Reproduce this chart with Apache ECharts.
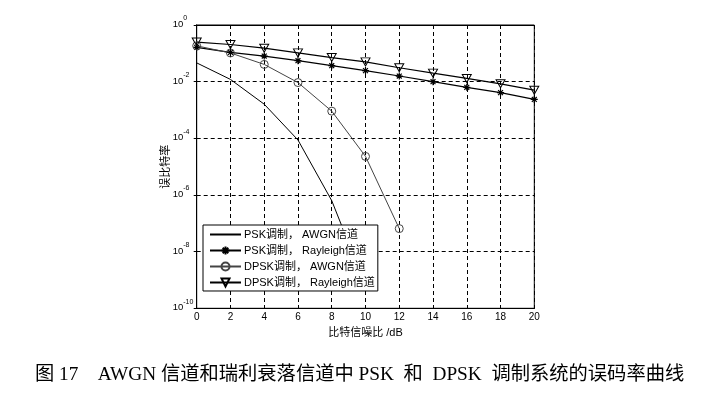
<!DOCTYPE html>
<html>
<head>
<meta charset="utf-8">
<script src="https://cdn.jsdelivr.net/npm/echarts@6/dist/echarts.min.js"></script>
<style>
html,body{margin:0;padding:0;background:#fff;}
#c{width:701px;height:394px;}
</style>
</head>
<body>
<div id="c"></div>
<script>
// ---- data ----
var snrAll = [0, 2, 4, 6, 8, 10, 12, 14, 16, 18, 20];
var pskAwgnSnr = [0, 2, 4, 6, 8, 10];
var pskAwgnBer = [0.046, 0.012, 0.0016, 8.7e-5, 6.3e-7, 6.3e-10];
var pskRayBer = [0.162, 0.108, 0.080, 0.055, 0.0367, 0.0245, 0.0158, 0.0100, 0.0063, 0.0041, 0.00236];
var dpskAwgnSnr = [0, 2, 4, 6, 8, 10, 12];
var dpskAwgnBer = [0.184, 0.103, 0.0406, 0.0093, 9.1e-4, 2.3e-5, 6.5e-8];
var dpskRayBer = [0.25, 0.205, 0.152, 0.104, 0.071, 0.050, 0.031, 0.020, 0.0130, 0.0084, 0.0050];
var seriesNames = ['PSK调制， AWGN信道', 'PSK调制， Rayleigh信道', 'DPSK调制， AWGN信道', 'DPSK调制， Rayleigh信道'];
var xTicks = [0, 2, 4, 6, 8, 10, 12, 14, 16, 18, 20];
var xName = '比特信噪比 /dB';
var yName = '误比特率';
var caption = '图 17　AWGN 信道和瑞利衰落信道中 PSK  和  DPSK  调制系统的误码率曲线';

function pairs(xs, ys) { return xs.map(function (x, i) { return [x, ys[i]]; }); }

var asterisk = 'path://M5,0L5,10M0,5L10,5M1.5,1.5L8.5,8.5M8.5,1.5L1.5,8.5';
var triDown = 'path://M0,0L10,0L5,9Z';
var font = "'Liberation Sans', Arial, 'Noto Sans CJK SC', sans-serif";
var gridLine = {show: true, lineStyle: {color: '#000', type: [4, 3], width: 1}};
var inTick = {show: true, inside: true, length: 3, lineStyle: {color: '#000'}};
var blackLine = {show: true, lineStyle: {color: '#000', width: 1}};

var chart = echarts.init(document.getElementById('c'), null, {renderer: 'canvas'});
chart.setOption({
  animation: false,
  backgroundColor: '#fff',
  title: {
    text: caption,
    left: 35, top: 365, padding: 0,
    textStyle: {fontFamily: "'Liberation Serif', 'Times New Roman', 'Noto Sans CJK SC', serif", fontSize: 19.3, fontWeight: 'normal', color: '#000'}
  },
  grid: {left: 196.7, right: 166.7, top: 25, bottom: 85.7, show: true, borderColor: '#000', borderWidth: 1, backgroundColor: '#fff'},
  legend: {
    orient: 'vertical', left: 203, top: 225,
    backgroundColor: '#fff', borderColor: '#000', borderWidth: 1,
    padding: [4, 3, 3, 6], itemGap: 5, itemWidth: 31, itemHeight: 10,
    textStyle: {fontFamily: font, fontSize: 11, color: '#000', padding: [0, 0, 0, -2]},
    data: [
      {name: seriesNames[0], itemStyle: {opacity: 0}},
      seriesNames[1], seriesNames[2], seriesNames[3]
    ]
  },
  xAxis: [{
    type: 'value', min: 0, max: 20, interval: 2,
    name: xName, nameLocation: 'middle', nameGap: 18,
    nameTextStyle: {fontFamily: font, fontSize: 11, color: '#000'},
    axisLine: blackLine, axisTick: inTick,
    axisLabel: {fontFamily: font, fontSize: 10, color: '#000', margin: 4, customValues: xTicks},
    splitLine: gridLine
  }, {
    type: 'value', min: 0, max: 20, interval: 2, position: 'top',
    axisLine: blackLine, axisTick: inTick, axisLabel: {show: false}, splitLine: {show: false}
  }],
  yAxis: [{
    type: 'log', logBase: 10, min: 1e-10, max: 1, interval: 2,
    name: yName, nameLocation: 'middle', nameGap: 25.5, nameRotate: 90, nameMoveOverlap: false,
    nameTextStyle: {fontFamily: font, fontSize: 11, color: '#000'},
    axisLine: blackLine, axisTick: inTick,
    axisLabel: {
      margin: 24, align: 'left', padding: [0, 0, 6, 0],
      formatter: function (v) {
        var e = Math.round(Math.log(v) / Math.LN10);
        return '{b|10}{s|' + e + '}';
      },
      rich: {
        b: {fontFamily: font, fontSize: 9.5, color: '#000', lineHeight: 14, verticalAlign: 'bottom'},
        s: {fontFamily: font, fontSize: 7, color: '#000', lineHeight: 14, verticalAlign: 'top', padding: [0, 0, 8, 0]}
      }
    },
    splitLine: gridLine,
    minorTick: {show: false}, minorSplitLine: {show: false}
  }, {
    type: 'log', logBase: 10, min: 1e-10, max: 1, interval: 2, position: 'right',
    axisLine: blackLine, axisTick: inTick, axisLabel: {show: false}, splitLine: {show: false},
    minorTick: {show: false}, minorSplitLine: {show: false}
  }],
  series: [
    {
      name: seriesNames[0], type: 'line', data: pairs(pskAwgnSnr, pskAwgnBer),
      symbol: 'none', showSymbol: false,
      lineStyle: {color: '#000', width: 1}, itemStyle: {color: '#000'}
    },
    {
      name: seriesNames[1], type: 'line', data: pairs(snrAll, pskRayBer),
      symbol: asterisk, symbolSize: 7, showSymbol: true,
      lineStyle: {color: '#000', width: 1.2},
      itemStyle: {color: 'rgba(0,0,0,0)', borderColor: '#000', borderWidth: 1.2}
    },
    {
      name: seriesNames[2], type: 'line', data: pairs(dpskAwgnSnr, dpskAwgnBer),
      symbol: 'circle', symbolSize: 8, showSymbol: true,
      lineStyle: {color: '#444', width: 1},
      itemStyle: {color: 'rgba(0,0,0,0)', borderColor: '#444', borderWidth: 1}
    },
    {
      name: seriesNames[3], type: 'line', data: pairs(snrAll, dpskRayBer),
      symbol: triDown, symbolSize: [9, 8], showSymbol: true,
      lineStyle: {color: '#000', width: 1.2},
      itemStyle: {color: 'rgba(0,0,0,0)', borderColor: '#000', borderWidth: 1}
    }
  ]
});
</script>
</body>
</html>
